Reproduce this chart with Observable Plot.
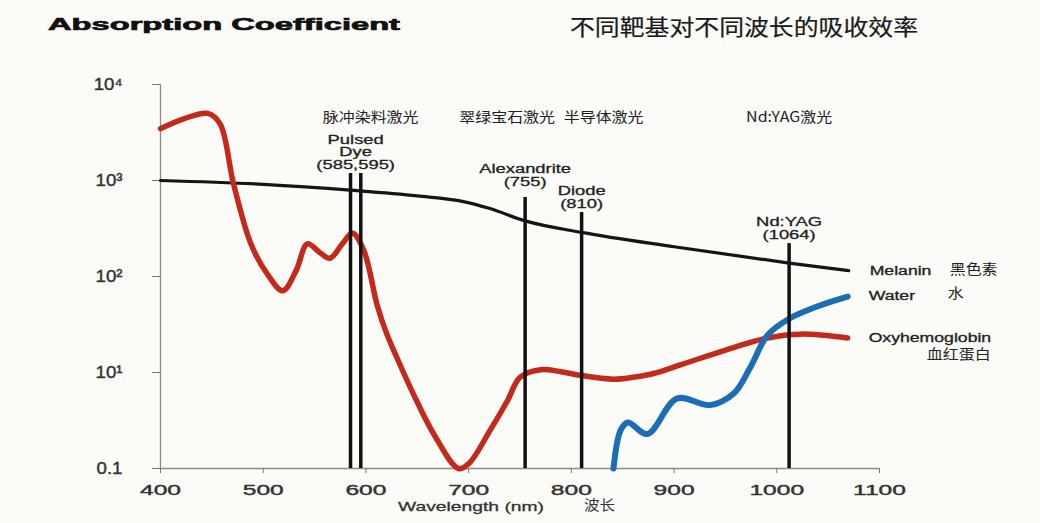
<!DOCTYPE html>
<html><head><meta charset="utf-8">
<script src="https://cdn.jsdelivr.net/npm/d3@7"></script>
<script src="https://cdn.jsdelivr.net/npm/@observablehq/plot@0.6"></script>
<style>
html,body{margin:0;padding:0;background:#fbfbf8;}
#wrap{position:relative;width:1040px;height:523px;overflow:hidden;font-family:"Liberation Sans",Arial,sans-serif;}
.t{position:absolute;white-space:nowrap;line-height:1;transform-origin:0 50%;z-index:2;}
#chart{position:absolute;left:0;top:0;}
</style></head><body><div id="wrap">
<div id="chart"></div>
<div id="title" class="t" style="left:48px;top:16px;font-weight:bold;font-size:17px;color:#111;-webkit-text-stroke:0.7px #111;">Absorption Coefficient</div>
<div id="cntitle" class="t" style="left:570px;top:14px;font-size:22px;color:#1a1a1a;font-family:'Noto Sans CJK SC',sans-serif;-webkit-text-stroke:0.2px #1a1a1a;">不同靶基对不同波长的吸收效率</div>
<div id="xlabel" class="t" style="left:398px;top:500px;font-size:13px;color:#333;-webkit-text-stroke:0.3px #333;">Wavelength (nm)</div>
<div id="xlabelcn" class="t" style="left:584px;top:497px;font-size:14px;color:#333;font-family:'Noto Sans CJK SC',sans-serif;">波长</div>
</div>
<script>
// ---- data ----
const xTicks = [400, 500, 600, 700, 800, 900, 1000, 1100];
const yTicks = [1, 10, 100, 1000, 10000];
const yTickLabels = ["0.1", "10¹", "10²", "10³", "10⁴"];

const melaninNm = [400, 500, 585, 650, 695, 720, 755, 810, 900, 1012, 1070];
const melaninVal = [1000, 912, 794, 692, 603, 513, 380, 288, 204, 138, 115];

const oxyNm = [400,422,446,458,471,488,503,519,532,543,555,565,577,587,598,611,620,630,646,666,690,700,721,738,750,770,790,809,841,860,880,909,958,991,1023,1069];
const oxyVal = [3470,4370,5000,3890,933,219,110,71,115,219,178,155,219,282,186,50,25.7,14.4,6.03,2.29,1.0,1.12,2.51,5.13,8.91,10.7,10.2,9.33,8.51,8.91,9.77,12.3,18.2,22.9,25.1,22.9];

const waterNm = [841, 848, 855, 874, 903, 935, 958, 974, 991, 1012, 1040, 1069];
const waterVal = [1.0, 2.51, 3.02, 2.29, 5.37, 4.57, 6.03, 11.2, 24.5, 36.3, 49, 61.7];

const laserNm = [585, 595, 755, 810, 1012];
const laserTop = [1180, 1180, 665, 464, 220];

const laserLabelNm = [590, 755, 810, 1012];
const laserLabelTop = [1180, 780, 464, 220];
const laserLabelEn = ["Pulsed\nDye\n(585,595)", "Alexandrite\n(755)", "Diode\n(810)", "Nd:YAG\n(1064)"];
const laserLabelCn = ["脉冲染料激光", "翠绿宝石激光", "半导体激光", "Nd:YAG激光"];

const seriesNames = ["Melanin", "Water", "Oxyhemoglobin"];
const seriesCn = ["黑色素", "水", "血红蛋白"];
const seriesColors = ["#151515", "#1b6db6", "#c42a1c"];

// ---- tables ----
const zip = (a, b) => a.map((x, i) => ({nm: x, v: b[i]}));
const melanin = zip(melaninNm, melaninVal);
const oxy = zip(oxyNm, oxyVal);
const water = zip(waterNm, waterVal);
const lasers = laserNm.map((x, i) => ({nm: x, top: laserTop[i]}));
const laserLabels = laserLabelNm.map((x, i) => ({nm: x, top: laserLabelTop[i], en: laserLabelEn[i], cn: laserLabelCn[i]}));
const ends = [melanin, water, oxy].map((s, i) => ({...s[s.length - 1], name: seriesNames[i], cn: seriesCn[i]}));

const CJK = "'Noto Sans CJK SC', sans-serif";
const cnDx = [15, -18, 22, 0];
const endCn = [
  {dx: 101, dy: -1, anchor: "start"},
  {dx: 100, dy: -3, anchor: "start"},
  {dx: 143, dy: 17, anchor: "end"}
];
const enStyle = {fill: "#222", stroke: "#222", strokeWidth: 0.3};

const chart = Plot.plot({
  width: 1040, height: 523,
  marginLeft: 160, marginRight: 161, marginTop: 84, marginBottom: 55,
  style: {background: "#fbfbf8", fontFamily: "'Liberation Sans', Arial, sans-serif", color: "#333"},
  x: {domain: [400, 1100]},
  y: {type: "log", domain: [1, 10000]},
  marks: [
    Plot.ruleY([1], {stroke: "#8c8c8c", strokeWidth: 1.3}),
    Plot.ruleX([400], {stroke: "#8c8c8c", strokeWidth: 1.3}),
    Plot.axisX({ticks: xTicks, tickFormat: d => String(d), tickSize: 5, tickPadding: 11, fontSize: 15, stroke: "#777", fill: "#333", label: null}),
    Plot.axisY({ticks: yTicks, tickFormat: d => yTickLabels[yTicks.indexOf(d)], tickSize: 8, tickPadding: 30, fontSize: 17, stroke: "#777", fill: "#333", label: null}),
    Plot.line(melanin, {x: "nm", y: "v", stroke: seriesColors[0], strokeWidth: 3.2, curve: "monotone-x"}),
    Plot.line(oxy, {x: "nm", y: "v", stroke: seriesColors[2], strokeWidth: 5.5, curve: "catmull-rom"}),
    Plot.line(water, {x: "nm", y: "v", stroke: seriesColors[1], strokeWidth: 6, curve: "catmull-rom"}),
    Plot.ruleX(lasers, {x: "nm", y1: 1, y2: "top", stroke: "#111", strokeWidth: 3.5}),
    Plot.text(laserLabels, {x: "nm", y: "top", text: "en", lineAnchor: "bottom", dy: -5, fontSize: 12.5, lineHeight: 1.0, ...enStyle}),
    ...laserLabels.map((d, i) => Plot.text([d], {x: "nm", frameAnchor: "top", dy: 28, dx: cnDx[i], text: "cn", fontSize: 14, fontFamily: CJK, fill: "#222"})),
    Plot.text(ends, {x: "nm", y: "v", text: "name", textAnchor: "start", dx: 21, fontSize: 12, ...enStyle}),
    ...ends.map((d, i) => Plot.text([d], {x: "nm", y: "v", text: "cn", textAnchor: endCn[i].anchor, dx: endCn[i].dx, dy: endCn[i].dy, fontSize: 14, fontFamily: CJK, fill: "#222"}))
  ]
});
document.getElementById("chart").appendChild(chart);

// widen glyphs to match the stretched look of the source figure
d3.select(chart).selectAll("text").each(function () {
  const g = this.parentNode;
  const al = (g && g.getAttribute && g.getAttribute("aria-label")) || "";
  const txt = this.textContent;
  let s;
  if (al.includes("y-axis")) s = 1.1;
  else if (al.includes("x-axis")) s = 1.64;
  else if (/[\u3400-\u9fff]/.test(txt)) s = 1.14;
  else s = 1.47;
  const tr = this.getAttribute("transform") || "";
  this.setAttribute("transform", tr + ` scale(${s},1)`);
});
d3.select(chart).selectAll('g[aria-label="x-axis tick label"] text, g[aria-label="y-axis tick label"] text')
  .attr("stroke", "#333").attr("stroke-width", 0.4).attr("paint-order", "stroke");

function fit(id, w) {
  const el = document.getElementById(id);
  const r = el.getBoundingClientRect().width;
  el.style.transform = `scaleX(${w / r})`;
}
fit("title", 352);
fit("cntitle", 348);
fit("xlabel", 146);
fit("xlabelcn", 31);
</script>
</body></html>
